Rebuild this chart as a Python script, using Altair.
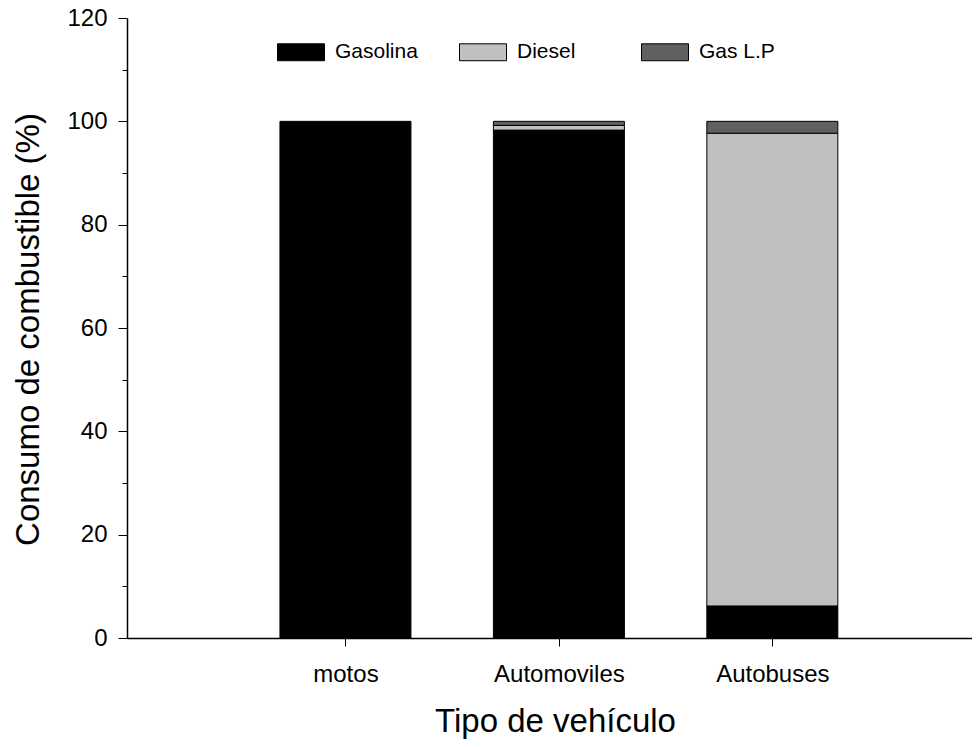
import altair as alt
import pandas as pd

vehicles = ["motos", "Automoviles", "Autobuses"]
positions = [1, 2, 3]
fuels = ["Gasolina", "Diesel", "Gas L.P"]
gasolina = [100.0, 98.3, 6.2]
diesel = [0.0, 0.9, 91.5]
gas_lp = [0.0, 0.8, 2.3]
colors = ["#000000", "#c0c0c0", "#606060"]
y_ticks = list(range(0, 121, 10))

rows = []
for i, v in enumerate(vehicles):
    for j, vals in enumerate([gasolina, diesel, gas_lp]):
        if vals[i] > 0:
            rows.append({"vehiculo": v, "pos": positions[i], "combustible": fuels[j],
                         "orden": j, "valor": vals[i]})
df = pd.DataFrame(rows)

label_map = "{" + ",".join(f"'{p}':'{v}'" for p, v in zip(positions, vehicles)) + "}"
FONT = "Liberation Sans"

chart = alt.Chart(df).mark_bar(size=131, stroke="black", strokeWidth=1).encode(
    x=alt.X("pos:Q",
            scale=alt.Scale(domain=[0, 3.912], nice=False, zero=False),
            axis=alt.Axis(values=positions, labelExpr=label_map + "[datum.value]",
                          title="Tipo de vehículo", grid=False,
                          tickSize=8, tickColor="black", tickWidth=1,
                          domainColor="black", domainWidth=1.5,
                          labelFont=FONT, labelFontSize=24, labelColor="black",
                          labelBaseline="alphabetic", labelPadding=35,
                          titleFont=FONT, titleFontSize=33, titleFontWeight="normal",
                          titleColor="black", titleX=428, titleY=93,
                          titleBaseline="alphabetic", titleAlign="center")),
    y=alt.Y("valor:Q", stack="zero",
            scale=alt.Scale(domain=[0, 120], nice=False),
            axis=alt.Axis(values=y_ticks,
                          labelExpr="datum.value % 20 == 0 ? datum.label : ''",
                          tickSize={"condition": {"test": "datum.value % 20 === 0", "value": 9}, "value": 5},
                          title="Consumo de combustible (%)", grid=False,
                          tickColor="black", tickWidth=1,
                          domainColor="black", domainWidth=1.5,
                          labelFont=FONT, labelFontSize=24, labelColor="black",
                          labelPadding=11,
                          titleFont=FONT, titleFontSize=33, titleFontWeight="normal",
                          titleColor="black", titleAngle=270, titleX=-89, titleY=311,
                          titleBaseline="alphabetic", titleAlign="center")),
    color=alt.Color("combustible:N",
                    scale=alt.Scale(domain=fuels, range=colors),
                    legend=alt.Legend(title=None, orient="none", direction="horizontal",
                                      legendX=150, legendY=10,
                                      symbolType="M-1,-0.36H1V0.36H-1Z", symbolSize=2209,
                                      symbolStrokeColor="black", symbolStrokeWidth=1,
                                      symbolOpacity=1,
                                      labelFont=FONT, labelFontSize=21, labelColor="black",
                                      labelOffset=10, columnPadding=39, gridAlign="all")),
    order=alt.Order("orden:Q"),
).properties(
    width=845, height=620,
    autosize=alt.AutoSizeParams(type="none"),
    padding={"left": 119, "top": 10, "right": 0, "bottom": 101},
).configure_view(stroke=None)

chart.save("out.html", embed_options={"renderer": "svg", "actions": False})
